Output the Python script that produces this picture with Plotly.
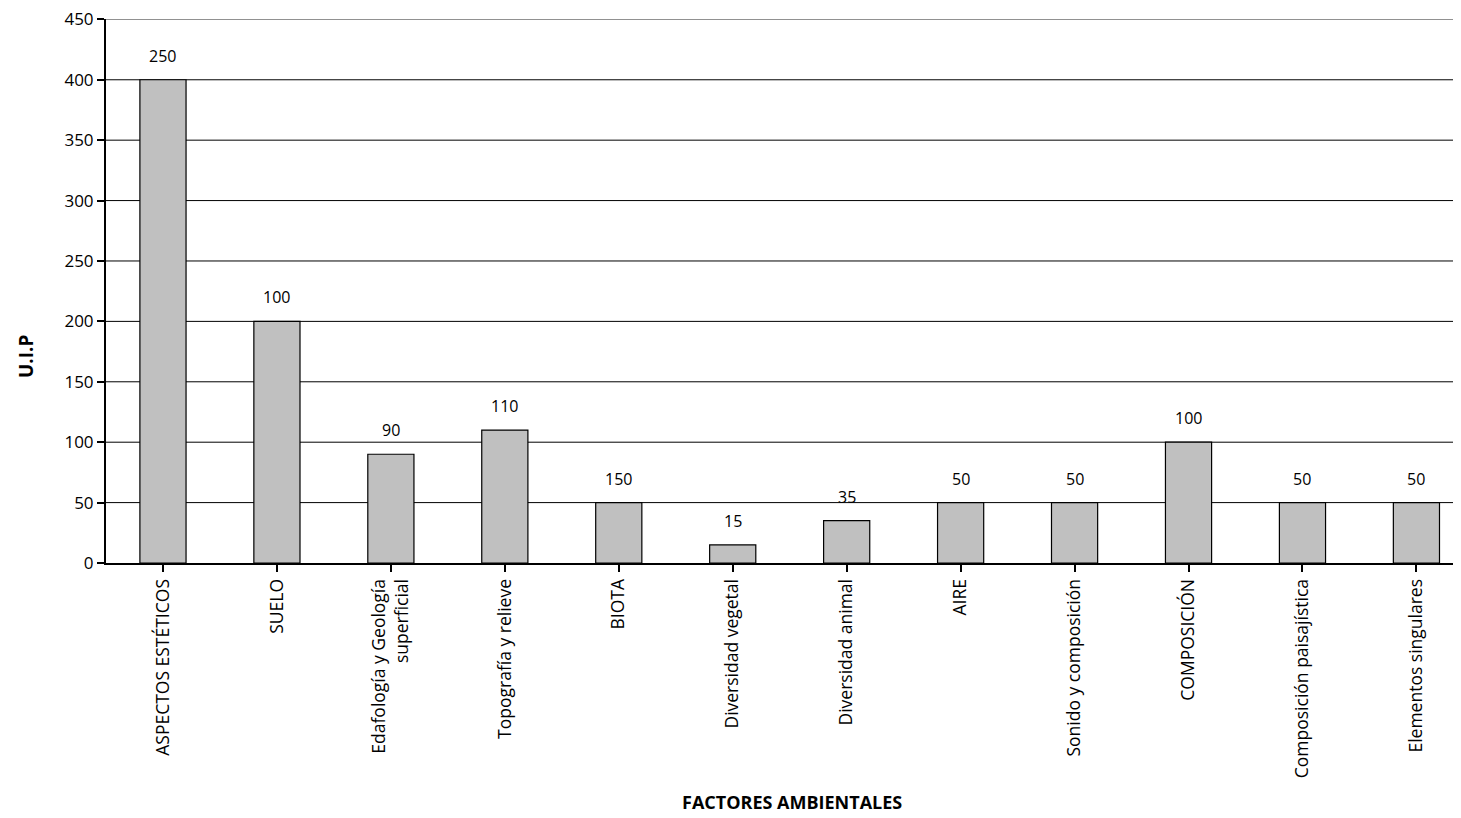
import plotly.graph_objects as go

categories = [
    "ASPECTOS ESTÉTICOS",
    "SUELO",
    "Edafología y Geología<br>superficial",
    "Topografía y relieve",
    "BIOTA",
    "Diversidad vegetal",
    "Diversidad animal",
    "AIRE",
    "Sonido y composición",
    "COMPOSICIÓN",
    "Composición paisajística",
    "Elementos singulares",
]
bar_values = [400, 200, 90, 110, 50, 15, 35, 50, 50, 100, 50, 50]
label_values = [250, 100, 90, 110, 150, 15, 35, 50, 50, 100, 50, 50]
y_ticks = [0, 50, 100, 150, 200, 250, 300, 350, 400, 450]

FONT = "Open Sans"
OFF = 8  # default page body margin
W, H = 1461 - OFF, 818 - OFF
L, T = 106 - OFF, 19 - OFF
PH = 544
B = H - T - PH
R = 0
cat_px = 113.95
PW = W - L
x_max = -0.5 + PW / cat_px
y_max = 450.3

x_idx = list(range(len(categories)))

fig = go.Figure()
fig.add_trace(go.Bar(
    x=x_idx,
    y=bar_values,
    width=0.405,
    marker=dict(color="#C0C0C0", line=dict(color="black", width=1.2)),
    showlegend=False,
))

annotations = []
for xi, yv, lv in zip(x_idx, bar_values, label_values):
    annotations.append(dict(
        x=xi, y=yv, xref="x", yref="y", text=str(lv), showarrow=False,
        xanchor="center", yanchor="bottom", yshift=11,
        font=dict(family=FONT, size=16, color="black"),
    ))

def px_x(p):
    return (p - OFF - L) / PW

def px_y(p):
    return (T + PH - (p - OFF)) / PH

annotations += [
    dict(text="<b>FACTORES AMBIENTALES</b>", xref="paper", yref="paper",
         x=px_x(792), y=px_y(802),
         xanchor="center", yanchor="middle", showarrow=False,
         font=dict(family=FONT, size=18, color="black")),
    dict(text="<b>U.I.P</b>", xref="paper", yref="paper",
         x=px_x(26), y=px_y(357),
         xanchor="center", yanchor="middle", textangle=-90, showarrow=False,
         font=dict(family=FONT, size=19, color="black")),
]

shapes = []
for yt in y_ticks[1:]:
    shapes.append(dict(
        type="line", xref="paper", yref="y", x0=0, x1=1, y0=yt, y1=yt,
        line=dict(color="#808080" if yt == y_ticks[-1] else "black", width=1),
        layer="below",
    ))

fig.update_layout(
    width=W, height=H,
    margin=dict(l=L, r=R, t=T, b=B, autoexpand=False),
    plot_bgcolor="white", paper_bgcolor="white",
    font=dict(family=FONT, size=13, color="black"),
    shapes=shapes,
    xaxis=dict(
        tickmode="array",
        tickvals=x_idx,
        ticktext=categories,
        tickangle=-90,
        range=[-0.5, x_max],
        tickson="boundaries",
        ticks="outside", ticklen=7, tickcolor="black", tickwidth=1.5,
        showline=True, linecolor="black", linewidth=2,
        showgrid=False,
        automargin=False,
        ticklabeloverflow="allow",
        tickfont=dict(family=FONT, size=17.5, color="black"),
    ),
    yaxis=dict(
        range=[0, y_max],
        tickmode="array",
        tickvals=y_ticks,
        ticktext=[str(v) for v in y_ticks],
        ticks="outside", ticklen=7, tickcolor="black", tickwidth=1.5,
        showline=True, linecolor="black", linewidth=2,
        showgrid=False,
        zeroline=False,
        automargin=False,
        ticklabeloverflow="allow",
        tickfont=dict(family=FONT, size=17, color="black"),
    ),
    annotations=annotations,
)

fig.write_html("out.html")
